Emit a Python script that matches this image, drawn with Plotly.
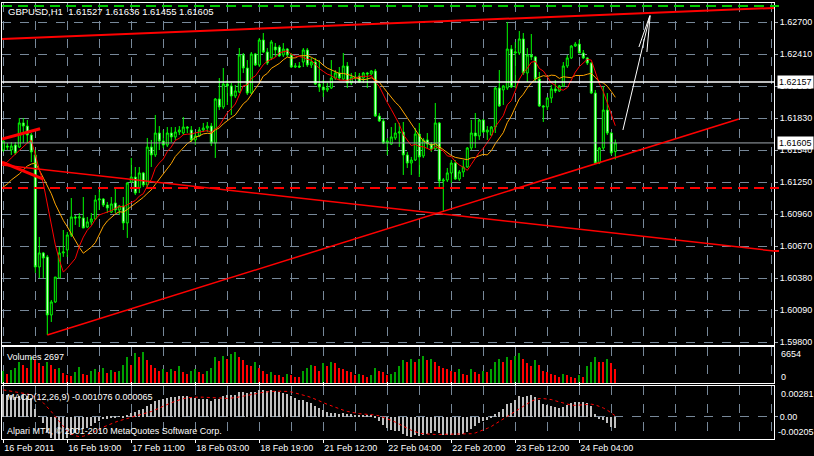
import plotly.graph_objects as go
import pandas as pd

# ---------------- data (GBPUSD H1) ----------------
open_ = [1.61541,1.61577,1.61541,1.61586,1.61568,1.61786,1.61758,1.61677,1.61496,1.60481,
         1.60608,1.60572,1.60046,1.60164,1.60381,1.60608,1.60635,1.60771,1.60934,1.60925,
         1.60925,1.60843,1.60889,1.60916,1.61088,1.61097,1.61043,1.60979,1.61061,1.60997,
         1.61034,1.60880,1.61251,1.61296,1.61197,1.61333,1.61224,1.61568,1.61496,1.61695,
         1.61622,1.61586,1.61695,1.61659,1.61704,1.61695,1.61749,1.61722,1.61632,1.61668,
         1.61722,1.61740,1.61758,1.61604,1.62003,1.61931,1.62139,1.62121,1.62030,1.62067,
         1.62402,1.62284,1.62057,1.62411,1.62311,1.62538,1.62429,1.62375,1.62474,1.62474,
         1.62402,1.62456,1.62402,1.62293,1.62302,1.62338,1.62447,1.62311,1.62338,1.62139,
         1.62112,1.62085,1.62103,1.62193,1.62239,1.62184,1.62302,1.62148,1.62202,1.62211,
         1.62193,1.62239,1.62230,1.62257,1.61849,1.61804,1.61604,1.61595,1.61650,1.61695,
         1.61704,1.61496,1.61423,1.61450,1.61686,1.61487,1.61632,1.61595,1.61550,1.61786,
         1.61260,1.61269,1.61333,1.61423,1.61278,1.61342,1.61387,1.61559,1.61695,1.61668,
         1.61813,1.61704,1.61677,1.61749,1.62103,1.62085,1.62103,1.62456,1.62420,1.62420,
         1.62547,1.62239,1.62402,1.62384,1.62184,1.61940,1.61931,1.62012,1.62094,1.62076,
         1.62121,1.62302,1.62375,1.62483,1.62501,1.62420,1.62375,1.62329,1.62057,1.61423,
         1.61559,1.61903,1.61695,1.61527]
high = [1.61641,1.61604,1.61613,1.61613,1.61831,1.61831,1.61813,1.61695,1.61541,1.60753,
        1.60617,1.60590,1.60182,1.60390,1.60662,1.60816,1.60798,1.61106,1.60952,1.60970,
        1.61115,1.60934,1.60970,1.61133,1.61179,1.61106,1.61070,1.61115,1.61197,1.61043,
        1.61115,1.61251,1.61469,1.61387,1.61387,1.61342,1.61650,1.61632,1.61858,1.61758,
        1.61722,1.61749,1.61749,1.61749,1.61758,1.61840,1.61758,1.61758,1.61704,1.61749,
        1.61786,1.61795,1.61786,1.62012,1.62193,1.62284,1.62175,1.62148,1.62130,1.62465,
        1.62420,1.62356,1.62429,1.62420,1.62556,1.62601,1.62465,1.62538,1.62510,1.62492,
        1.62510,1.62465,1.62420,1.62329,1.62338,1.62465,1.62465,1.62375,1.62375,1.62356,
        1.62175,1.62148,1.62356,1.62266,1.62293,1.62420,1.62338,1.62239,1.62248,1.62239,
        1.62248,1.62248,1.62266,1.62275,1.61876,1.61822,1.61650,1.61749,1.61786,1.61786,
        1.61795,1.61523,1.61478,1.61740,1.61786,1.61650,1.61695,1.61613,1.61967,1.61795,
        1.61287,1.61378,1.61450,1.61450,1.61360,1.61450,1.61568,1.61813,1.61876,1.61822,
        1.61822,1.61758,1.61758,1.62112,1.62266,1.62130,1.62701,1.62492,1.62520,1.62619,
        1.62601,1.62465,1.62592,1.62393,1.62248,1.61949,1.62021,1.62130,1.62175,1.62130,
        1.62338,1.62402,1.62492,1.62520,1.62538,1.62447,1.62384,1.62338,1.62085,1.61568,
        1.62121,1.62057,1.61704,1.61636]
low = [1.61523,1.61541,1.61496,1.61496,1.61559,1.61604,1.61604,1.61432,1.60427,1.60381,
       1.60381,1.59865,1.59983,1.60155,1.60381,1.60572,1.60572,1.60753,1.60862,1.60843,
       1.60834,1.60834,1.60862,1.60907,1.60997,1.61025,1.60970,1.60970,1.60970,1.60952,
       1.60816,1.60744,1.61242,1.61133,1.61151,1.61206,1.61206,1.61387,1.61478,1.61541,
       1.61559,1.61568,1.61613,1.61632,1.61677,1.61677,1.61695,1.61613,1.61586,1.61659,
       1.61704,1.61704,1.61577,1.61469,1.61903,1.61913,1.61949,1.61858,1.62012,1.62057,
       1.62239,1.62039,1.62048,1.62302,1.62293,1.62420,1.62311,1.62356,1.62384,1.62384,
       1.62384,1.62384,1.62284,1.62284,1.62284,1.62293,1.62293,1.62284,1.62130,1.62067,
       1.62021,1.62067,1.62094,1.62175,1.62175,1.62175,1.62103,1.62130,1.62175,1.62148,
       1.62148,1.62103,1.62221,1.61840,1.61795,1.61595,1.61496,1.61586,1.61632,1.61568,
       1.61315,1.61378,1.61315,1.61441,1.61296,1.61469,1.61559,1.61523,1.61541,1.61197,
       1.60979,1.61251,1.61242,1.61269,1.61260,1.61296,1.61378,1.61541,1.61559,1.61632,
       1.61695,1.61632,1.61668,1.61695,1.61931,1.61949,1.62085,1.62103,1.62103,1.62402,
       1.62221,1.62157,1.62356,1.62157,1.61931,1.61795,1.61903,1.61967,1.62057,1.62067,
       1.62112,1.62284,1.62365,1.62474,1.62420,1.62365,1.62311,1.62048,1.61414,1.61414,
       1.61541,1.61677,1.61496,1.61455]
close = [1.61622,1.61568,1.61577,1.61514,1.61786,1.61758,1.61677,1.61523,1.60481,1.60608,
         1.60562,1.60046,1.60164,1.60390,1.60608,1.60617,1.60771,1.60934,1.60925,1.60934,
         1.60834,1.60889,1.60916,1.61088,1.61097,1.61043,1.61016,1.61052,1.60997,1.61034,
         1.60880,1.61242,1.61296,1.61151,1.61333,1.61224,1.61568,1.61496,1.61695,1.61622,
         1.61586,1.61695,1.61659,1.61704,1.61722,1.61749,1.61740,1.61632,1.61668,1.61722,
         1.61740,1.61758,1.61604,1.62003,1.61931,1.62139,1.62121,1.62030,1.62076,1.62402,
         1.62284,1.62057,1.62411,1.62311,1.62538,1.62429,1.62329,1.62520,1.62447,1.62393,
         1.62456,1.62402,1.62293,1.62302,1.62293,1.62447,1.62311,1.62338,1.62139,1.62112,
         1.62085,1.62103,1.62193,1.62239,1.62193,1.62302,1.62148,1.62202,1.62193,1.62157,
         1.62239,1.62230,1.62257,1.61849,1.61804,1.61604,1.61622,1.61659,1.61695,1.61704,
         1.61496,1.61423,1.61450,1.61686,1.61478,1.61632,1.61595,1.61550,1.61786,1.61260,
         1.61269,1.61333,1.61423,1.61278,1.61342,1.61387,1.61559,1.61695,1.61668,1.61813,
         1.61704,1.61722,1.61749,1.62103,1.61940,1.62121,1.62456,1.62112,1.62429,1.62547,
         1.62239,1.62402,1.62384,1.62184,1.61940,1.61931,1.62012,1.62094,1.62076,1.62121,
         1.62302,1.62375,1.62483,1.62501,1.62420,1.62375,1.62329,1.62057,1.61423,1.61559,
         1.61903,1.61695,1.61514,1.61605]
volume = [2400,1800,2600,3000,4200,3600,3000,5100,4500,3900,3300,4200,3600,2700,3000,
          2000,1600,1400,2100,3200,1800,1500,2400,
          2700,2200,3000,1900,2600,2100,2400,
          3600,5100,3500,6000,5100,6100,4500,3600,3000,2400,2700,
          2100,2700,2400,3300,2100,1800,2400,2700,2100,1800,2400,3000,
          5100,4300,5400,4800,5700,6100,5200,4500,3600,3300,4200,3000,
          2400,1800,2100,1500,1500,1200,1800,1500,1200,1200,2400,
          3000,3600,3300,2400,3900,3300,4200,3900,3000,2700,2400,2100,1500,
          1800,1500,1200,1500,3000,2400,2100,1500,1800,2100,
          3300,4500,4200,4800,4200,4800,5400,4500,4800,4200,3300,3000,2700,
          2400,2100,2700,1800,1500,2700,2100,1800,2400,2100,2700,
          4200,4800,4200,5100,4500,5400,6000,4800,3900,3300,4500,3600,2400,2100,
          1800,1500,1200,1800,1500,1200,900,1500,1200,
          3300,4200,5100,4200,4200,4800,3900,2697]

# moving-average values before enough history is on the chart
fast_ma_head = [1.61405,1.61432,1.61469,1.61505,1.61541,1.61577,1.61604]
slow_ma_head = [1.61206,1.61233,1.61269,1.61296,1.61324,1.61360,1.61396,1.61414,1.61423,1.61360,1.61287,1.61215]
ema12_seed, ema26_seed = 1.6143, 1.6122
macd_prior = [0.0025] * 8

time_labels = ["16 Feb 2011", "16 Feb 19:00", "17 Feb 11:00", "18 Feb 03:00", "18 Feb 19:00",
               "21 Feb 12:00", "22 Feb 04:00", "22 Feb 20:00", "23 Feb 12:00", "24 Feb 04:00"]

# objects on the chart (price levels / trend line end points as bar index, price)
hline_green = 1.62846
hline_white = 1.62157
bid_price = 1.61605
hline_red_dash = 1.61197
trend_upper = [(-0.325, 1.62547), (192.675, 1.62828)]
trend_down = [(-0.325, 1.61405), (192.675, 1.60626)]
trend_up = [(11, 1.59865), (183.9, 1.61822)]
trend_a = [(-0.325, 1.61641), (9.2, 1.61734)]
trend_b = [(-0.325, 1.61432), (10.0, 1.61278)]
arrow_shaft = [(154.9, 1.61722), (161.7, 1.62764)]
arrow_head1 = [(158.9, 1.62474), (161.6, 1.62755)]
arrow_head2 = [(160.9, 1.62429), (161.7, 1.62755)]

# ---------------- derived series ----------------
n = len(close)
idx = list(range(n))
c = pd.Series(close)
fast = c.rolling(8).mean()
fast.iloc[:7] = fast_ma_head
slow = c.rolling(13).mean()
slow.iloc[:12] = slow_ma_head
ema12 = pd.Series([ema12_seed] + close).ewm(span=12, adjust=False).mean().iloc[1:].values
ema26 = pd.Series([ema26_seed] + close).ewm(span=26, adjust=False).mean().iloc[1:].values
macd = ema12 - ema26
signal = pd.Series(macd_prior + list(macd)).rolling(9).mean().iloc[8:].values
vol_colors = ['#00a000' if (i == 0 or volume[i] > volume[i - 1]) else '#ff0000' for i in range(n)]

# ---------------- figure ----------------
W, H = 814, 456
GRID = '#778899'
FONT = dict(family='Liberation Sans', size=9, color='white')

def py(px):
    return 1 - px / H

fig = go.Figure()
fig.add_trace(go.Candlestick(
    x=idx, open=open_, high=high, low=low, close=close,
    increasing=dict(line=dict(color='#00ff00', width=1), fillcolor='black'),
    decreasing=dict(line=dict(color='#00ff00', width=1), fillcolor='white'),
    xaxis='x', yaxis='y', hoverinfo='skip'))
fig.add_trace(go.Scatter(x=idx, y=slow, mode='lines', line=dict(color='#ffa500', width=1),
                         xaxis='x', yaxis='y'))
fig.add_trace(go.Scatter(x=idx, y=fast, mode='lines', line=dict(color='#ff0000', width=1),
                         xaxis='x', yaxis='y'))
fig.add_trace(go.Bar(x=idx, y=volume, marker=dict(color=vol_colors, line=dict(width=0)),
                     width=0.3, xaxis='x', yaxis='y2'))
fig.add_trace(go.Bar(x=idx, y=macd, marker=dict(color='#c0c0c0', line=dict(width=0)),
                     width=0.3, xaxis='x', yaxis='y3'))
fig.add_trace(go.Scatter(x=idx, y=signal, mode='lines', line=dict(color='#ff0000', width=1, dash='dot'),
                         xaxis='x', yaxis='y3'))

def seg(p, color, width, dash='solid'):
    fig.add_shape(type='line', xref='x', yref='y', x0=p[0][0], y0=p[0][1], x1=p[1][0], y1=p[1][1],
                  line=dict(color=color, width=width, dash=dash))

def hline(yv, color, width, dash='solid'):
    fig.add_shape(type='line', xref='x domain', yref='y', x0=0, x1=1, y0=yv, y1=yv,
                  line=dict(color=color, width=width, dash=dash))

hline(hline_green, '#00cc00', 2, '10px,6px')
hline(hline_white, 'white', 1.5)
hline(bid_price, '#a0a8b0', 1)
hline(hline_red_dash, '#ff0000', 2, '10px,6px')
seg(trend_upper, '#ff0000', 2)
seg(trend_down, '#ff0000', 1.5)
seg(trend_up, '#ff0000', 1.5)
seg(trend_a, '#ff0000', 3)
seg(trend_b, '#ff0000', 3)
seg(arrow_shaft, 'white', 1)
seg(arrow_head1, 'white', 1)
seg(arrow_head2, 'white', 1)

# small coloured marks on the price scale
for yv, col in [(hline_green, '#00cc00'), (hline_red_dash, '#ff0000'), (trend_down[1][1], '#ff0000')]:
    fig.add_shape(type='line', xref='paper', yref='y', x0=774 / W, x1=779 / W, y0=yv, y1=yv,
                  line=dict(color=col, width=2))

price_ticks = [1.5980 + 0.0029 * k for k in range(11)]
xt_vals = list(range(0, 145, 16))

fig.update_layout(
    width=W, height=H, margin=dict(l=0, r=0, t=0, b=0),
    paper_bgcolor='black', plot_bgcolor='black', showlegend=False,
    font=FONT, bargap=0,
    xaxis=dict(domain=[2 / W, 774 / W], range=[-0.325, 192.675], anchor='y3',
               rangeslider=dict(visible=False),
               tickmode='array', tickvals=xt_vals, ticktext=time_labels, tickangle=0,
               ticklabelposition='outside right', ticks='outside', ticklen=3, tickcolor='white',
               showgrid=True, gridcolor=GRID, griddash='dash', gridwidth=1,
               minor=dict(tickmode='linear', tick0=0, dtick=8, showgrid=True, gridcolor=GRID,
                          griddash='dash', ticks=''),
               showline=True, linecolor='white', linewidth=1, mirror='all', zeroline=False,
               tickfont=FONT, automargin=False),
    yaxis=dict(domain=[py(345), py(3)], range=[1.59774, 1.62873], side='right', anchor='x',
               tickmode='array', tickvals=price_ticks, ticktext=['%.5f' % v for v in price_ticks],
               ticks='outside', ticklen=3, tickcolor='#a0a8b0',
               showgrid=True, gridcolor=GRID, griddash='dash', zeroline=False,
               showline=True, linecolor='white', mirror=True, tickfont=FONT, automargin=False),
    yaxis2=dict(domain=[py(383), py(347)], range=[0, 7100], side='right', anchor='x',
                showticklabels=False, ticks='', showgrid=False, zeroline=False,
                showline=True, linecolor='white', mirror=True),
    yaxis3=dict(domain=[py(439), py(386)], range=[-0.00205, 0.00281], side='right', anchor='x',
                tickmode='array', tickvals=[0], ticktext=['0.00'], ticks='outside', ticklen=3,
                tickcolor='#a0a8b0', showgrid=True, gridcolor=GRID, griddash='dash', zeroline=False,
                showline=True, linecolor='white', mirror=True, tickfont=FONT, automargin=False),
)

ann = []
def text(x, y, s, xanchor='left', size=9):
    ann.append(dict(xref='paper', yref='paper', x=x / W, y=py(y), text=s, showarrow=False,
                    xanchor=xanchor, yanchor='middle',
                    font=dict(family='Liberation Sans', size=size, color='white')))

text(6, 11, 'GBPUSD,H1  1.61527 1.61636 1.61455 1.61605', size=9.5)
text(5, 357, 'Volumes 2697')
text(5, 397, 'MACD(12,26,9) -0.001076 0.000065')
text(5, 431, 'Alpari MT4, © 2001-2010 MetaQuotes Software Corp.')
text(779, 354, '6654')
text(779, 377, '0')
text(779, 394, '0.00281')
text(776, 432, '-0.00205')
for yv, s in [(hline_white, '1.62157'), (bid_price, '1.61605')]:
    ann.append(dict(xref='paper', yref='y', x=777 / W, y=yv, text=s, showarrow=False,
                    xanchor='left', yanchor='middle', bgcolor='white', borderpad=1,
                    font=dict(family='Liberation Sans', size=9, color='black')))
fig.update_layout(annotations=ann)

fig.write_html('out.html', config={'displayModeBar': False},
               post_script="document.body.style.margin='0';document.body.style.overflow='hidden';")
